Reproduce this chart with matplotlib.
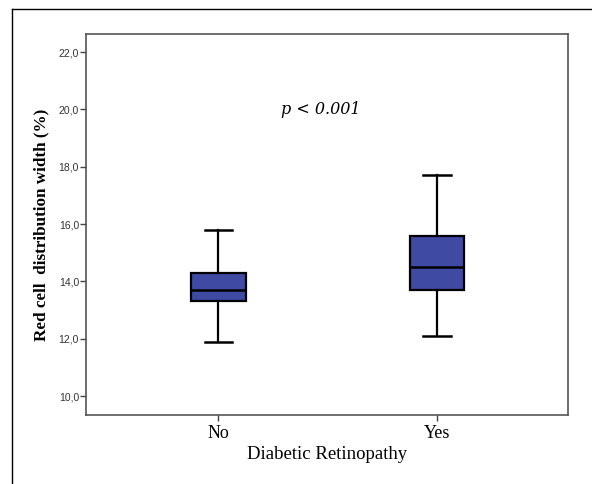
import matplotlib
matplotlib.use("Agg")
import matplotlib.pyplot as plt
from matplotlib.lines import Line2D

# Data (percent)
groups = ["No", "Yes"]
whisk_lo = [11.9, 12.1]
q1 = [13.3, 13.7]
medians = [13.7, 14.5]
q3 = [14.3, 15.6]
whisk_hi = [15.8, 17.7]
yticks = [10, 12, 14, 16, 18, 20, 22]
ytick_labels = ["10,0", "12,0", "14,0", "16,0", "18,0", "20,0", "22,0"]

fig = plt.figure(figsize=(5.92, 4.84), dpi=100)
ax = fig.add_axes([86 / 592, 1 - 415 / 484, (568 - 86) / 592, (415 - 34) / 484])

stats = []
for i, g in enumerate(groups):
    stats.append(dict(label=g, whislo=whisk_lo[i], q1=q1[i], med=medians[i],
                      q3=q3[i], whishi=whisk_hi[i], fliers=[]))

ax.bxp(stats, positions=[0, 1], widths=0.25, patch_artist=True, showfliers=False,
       boxprops=dict(facecolor="#3f4aa2", edgecolor="black", linewidth=1.6),
       medianprops=dict(color="black", linewidth=1.8),
       whiskerprops=dict(color="black", linewidth=1.6),
       capprops=dict(color="black", linewidth=1.8),
       capwidths=0.125)

ax.set_xlim(-0.605, 1.6)
ax.set_ylim(9.34, 22.63)
ax.set_yticks(yticks)
ax.set_yticklabels(ytick_labels, fontsize=7.5, color="#333333", family="Liberation Sans")
ax.set_xticks([0, 1])
ax.set_xticklabels(groups, fontsize=13, family="Liberation Serif")
ax.tick_params(axis="y", length=4, width=1, color="#444444", pad=1)
ax.tick_params(axis="x", length=4, width=1, color="#444444", pad=3)
for s in ax.spines.values():
    s.set_color("#555555")
    s.set_linewidth(1.2)

ax.set_xlabel("Diabetic Retinopathy", fontsize=13.5, family="Liberation Serif", labelpad=3)
ax.set_ylabel("Red cell  distribution width (%)", fontsize=12.3, family="Liberation Serif",
              fontweight="bold", labelpad=7)

ax.text(0.47, 20.0, "p < 0.001", fontsize=11.5, style="italic", family="DejaVu Serif",
        ha="center", va="center")

# outer frame (top and left edges)
fig.add_artist(Line2D([12 / 592, 12 / 592], [0, 1 - 9 / 484], color="black", lw=1))
fig.add_artist(Line2D([12 / 592, 1], [1 - 9 / 484, 1 - 9 / 484], color="black", lw=1))

fig.savefig("out.png", dpi=100)
